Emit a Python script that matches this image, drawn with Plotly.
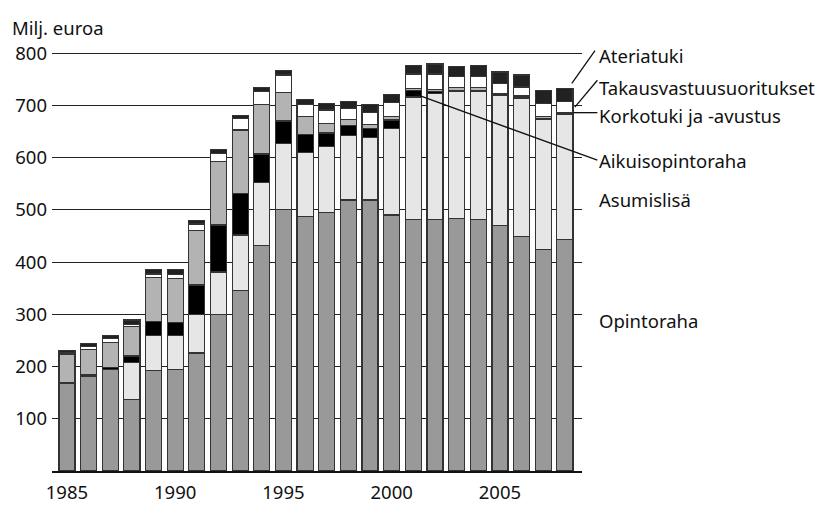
import plotly.graph_objects as go
import numpy as np

years = list(range(1985, 2009))
opintoraha = [168, 182, 195, 137, 193, 194, 226, 299, 346, 432, 501, 487, 495, 519, 519, 490, 482, 481, 484, 482, 470, 449, 424, 443]
asumislisa = [0, 0, 0, 70, 67, 66, 73, 82, 106, 120, 126, 123, 127, 124, 120, 166, 234, 242, 242, 245, 249, 264, 250, 240]
aikuisopintoraha = [1, 2, 3, 13, 26, 24, 57, 90, 79, 55, 43, 34, 25, 19, 17, 16, 12, 4, 3, 2, 1, 1, 1, 1]
korkotuki = [55, 49, 48, 56, 85, 85, 105, 121, 122, 95, 55, 34, 18, 11, 7, 6, 4, 4, 5, 5, 3, 4, 3, 2]
takaus = [3, 5, 8, 5, 6, 7, 12, 16, 22, 25, 33, 24, 26, 21, 23, 28, 28, 29, 21, 22, 19, 17, 26, 21]
ateriatuki = [3, 6, 6, 8, 9, 9, 7, 8, 6, 7, 8, 9, 13, 13, 16, 15, 17, 19, 19, 21, 22, 23, 25, 25]

y_ticks = [100, 200, 300, 400, 500, 600, 700, 800]
x_ticks = [1985, 1990, 1995, 2000, 2005]

series = [
    ("Opintoraha", opintoraha, "#999999"),
    ("Asumislisä", asumislisa, "#e6e6e6"),
    ("Aikuisopintoraha", aikuisopintoraha, "#000000"),
    ("Korkotuki ja -avustus", korkotuki, "#b3b3b3"),
    ("Takausvastuusuoritukset", takaus, "#ffffff"),
    ("Ateriatuki", ateriatuki, "#222222"),
]

FONT = "Noto Sans"
FS = 18.5
X0, X1 = 1984.31, 2008.79
Y0, Y1 = 0, 850

fig = go.Figure()
for name, vals, col in series:
    fig.add_trace(go.Bar(x=years, y=vals, name=name, marker=dict(color=col, line=dict(color="#333333", width=1.2))))

fig.update_layout(
    barmode="stack", bargap=0.26, showlegend=False,
    width=818, height=499,
    margin=dict(l=44, r=244, t=19, b=36, autoexpand=False),
    plot_bgcolor="white", paper_bgcolor="white",
    font=dict(family=FONT, size=FS, color="#111111"),
)
fig.update_xaxes(range=[X0, X1], tickvals=x_ticks, ticktext=[str(v) for v in x_ticks],
                 showgrid=False, showline=True, linecolor="#111111", linewidth=1.5,
                 ticks="", ticklabelstandoff=4, automargin=False)
fig.update_yaxes(range=[Y0, Y1], tickvals=y_ticks, showgrid=True, gridcolor="#222222", gridwidth=1.3,
                 zeroline=False, showline=False, ticks="", ticklabelstandoff=4, automargin=False)

def px(xd):
    return (xd - X0) / (X1 - X0)

def py(yd):
    return (yd - Y0) / (Y1 - Y0)

cum = np.cumsum(np.array([s[1] for s in series]), axis=0)
last = len(years) - 1
lab_x = px(2009.49)

# title
fig.add_annotation(text="Milj. euroa", xref="paper", yref="paper", x=-0.079, y=1.0,
                   xanchor="left", yanchor="middle", showarrow=False, font=dict(size=FS))

labels = [
    ("Ateriatuki", 796),
    ("Takausvastuusuoritukset", 735),
    ("Korkotuki ja -avustus", 681),
    ("Aikuisopintoraha", 595),
    ("Asumislisä", 519),
    ("Opintoraha", 289),
]
for t, yv in labels:
    fig.add_annotation(text=t, xref="paper", yref="paper", x=lab_x, y=py(yv),
                       xanchor="left", yanchor="middle", showarrow=False, font=dict(size=FS))

line = dict(color="#111111", width=1.3)
# Ateriatuki leader
fig.add_shape(type="line", xref="paper", yref="paper", x0=px(2008.32), y0=py(cum[5][last] + 10),
              x1=px(2009.39), y1=py(805), line=line)
# Takaus leader
fig.add_shape(type="line", xref="paper", yref="paper", x0=px(2008.46), y0=py(cum[4][last] - takaus[last] / 2),
              x1=px(2009.5), y1=py(748), line=line)
# Korkotuki leader
fig.add_shape(type="line", xref="paper", yref="paper", x0=px(2008.37), y0=py(cum[3][last]),
              x1=px(2009.5), y1=py(cum[3][last]), line=line)
# Aikuisopintoraha leader from 2001
i01 = years.index(2001)
fig.add_shape(type="line", xref="paper", yref="paper", x0=px(2001.07), y0=py(cum[2][i01] - aikuisopintoraha[i01] / 2),
              x1=px(2009.5), y1=py(595), line=line)

fig.write_html("out.html")
